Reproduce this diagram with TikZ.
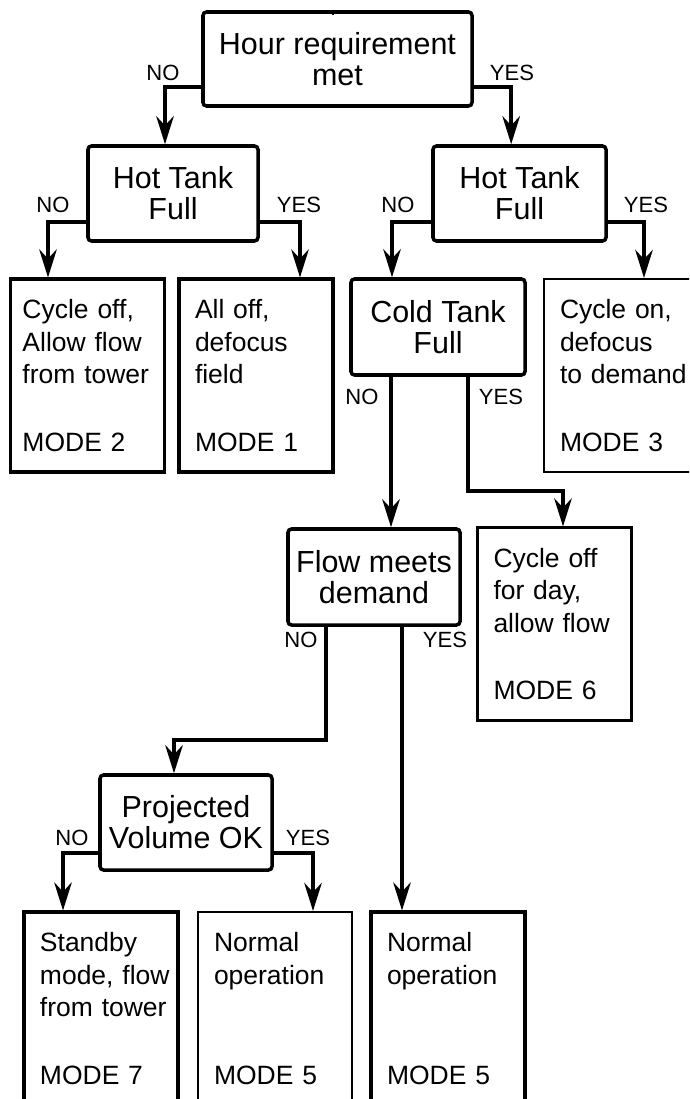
\documentclass[tikz,border=0pt]{standalone}
\usepackage{fontspec}
\setmainfont{Liberation Sans}
\usetikzlibrary{arrows.meta}
\begin{document}
\begin{tikzpicture}[x=0.03cm, y=-0.03cm,
  >={Stealth[length=24pt, width=15pt, inset=8pt]},
  decision/.style={draw, line width=3pt, rounded corners=3pt, align=center,
    minimum width=5.16cm, minimum height=2.85cm, inner sep=0pt,
    font=\fontsize{26}{26.5}\selectfont},
  outcome/.style={draw, line width=2.6pt, align=left, text width=3.66cm,
    inner xsep=0.48cm, minimum height=5.79cm,
    font=\fontsize{22.6}{27.7}\selectfont},
  thinout/.style={outcome, line width=1.8pt},
  answer/.style={font=\fontsize{18.8}{22}\selectfont, inner sep=0pt},
  link/.style={->, line width=3pt}]
\useasboundingbox (0,0) rectangle (689,1099);
\clip (0,0) rectangle (689,1099);
% decisions
\node[decision, minimum width=8.07cm, minimum height=2.82cm] (hour) at (337.5,59) {Hour requirement\\met};
\node[decision, minimum width=5.1cm] (hotL) at (173,193.5) {Hot Tank\\Full};
\node[decision, minimum width=5.19cm] (hotR) at (519.5,193.5) {Hot Tank\\Full};
\node[decision, minimum width=5.22cm, minimum height=2.88cm] (cold) at (438,327) {Cold Tank\\Full};
\node[decision, minimum height=2.88cm] (flow) at (374,577) {Flow meets\\demand};
\node[decision] (proj) at (186,822.5) {Projected\\Volume OK};
% outcomes
\node[outcome, inner xsep=0.36cm, text width=3.9cm] (mode2) at (87.5,375.5) {Cycle off,\\Allow flow\\from~tower\\[30pt]MODE 2};
\node[outcome] (mode1) at (256,375.5) {All off,\\defocus\\field\\[30pt]MODE 1};
\node[thinout] (mode3) at (621,375.5) {Cycle on,\\defocus\\\mbox{to demand}\\[30pt]MODE 3};
\node[thinout] (mode6) at (554.5,624) {Cycle off\\for day,\\allow flow\\[30pt]MODE 6};
\node[outcome] (mode7) at (101,1008.5) {Standby\\\mbox{mode, flow}\\\mbox{from tower}\\[30pt]MODE 7};
\node[thinout] (normA) at (275,1008.5) {Normal\\operation\\[57.6pt]MODE 5};
\node[outcome] (normB) at (448,1008.5) {Normal\\operation\\[57.6pt]MODE 5};
% answers
\node[answer] (hourno) at (163,73) {NO};
\node[answer] (houryes) at (512,73) {YES};
\node[answer] (hotLno) at (53,205) {NO};
\node[answer] (hotLyes) at (299,205) {YES};
\node[answer] (hotRno) at (398,205) {NO};
\node[answer] (hotRyes) at (646,205) {YES};
\node[answer] (coldno) at (362,397) {NO};
\node[answer] (coldyes) at (501,397) {YES};
\node[answer] (flowno) at (301,640) {NO};
\node[answer] (flowyes) at (445,640) {YES};
\node[answer] (projno) at (72,838) {NO};
\node[answer] (projyes) at (308,838) {YES};
% links
\draw[line width=2pt] ([xshift=-0.135cm]hour.north) -- ++(0,5);
\draw[link] ([yshift=-0.84cm]hour.west) -| ([xshift=-0.24cm]hotL.north);
\draw[link] ([yshift=-0.84cm]hour.east) -| ([xshift=-0.25cm]hotR.north);
\draw[link] ([yshift=-0.855cm]hotL.west) -| ([xshift=-1.185cm]mode2.north);
\draw[link] ([yshift=-0.855cm]hotL.east) -| ([xshift=1.32cm]mode1.north);
\draw[link] ([yshift=-0.855cm]hotR.west) -| ([xshift=-1.38cm]cold.north);
\draw[link] ([yshift=-0.855cm]hotR.east) -| ([xshift=0.69cm]mode3.north);
\coordinate (coldout) at ([xshift=-1.41cm]cold.south);
\draw[link] (coldout) -- (coldout |- flow.north);
\draw[link] ([xshift=0.9cm]cold.south) -- ++(0,114) -| ([xshift=0.255cm]mode6.north);
\draw[link] ([xshift=-1.44cm]flow.south) -- ++(0,113) -| ([xshift=-0.36cm]proj.north);
\coordinate (flowout) at ([xshift=0.84cm]flow.south);
\draw[link] (flowout) -- (flowout |- normB.north);
\draw[link] ([yshift=-0.915cm]proj.west) -| ([xshift=-1.14cm]mode7.north);
\draw[link] ([yshift=-0.915cm]proj.east) -| ([xshift=1.14cm]normA.north);
\end{tikzpicture}
\end{document}
